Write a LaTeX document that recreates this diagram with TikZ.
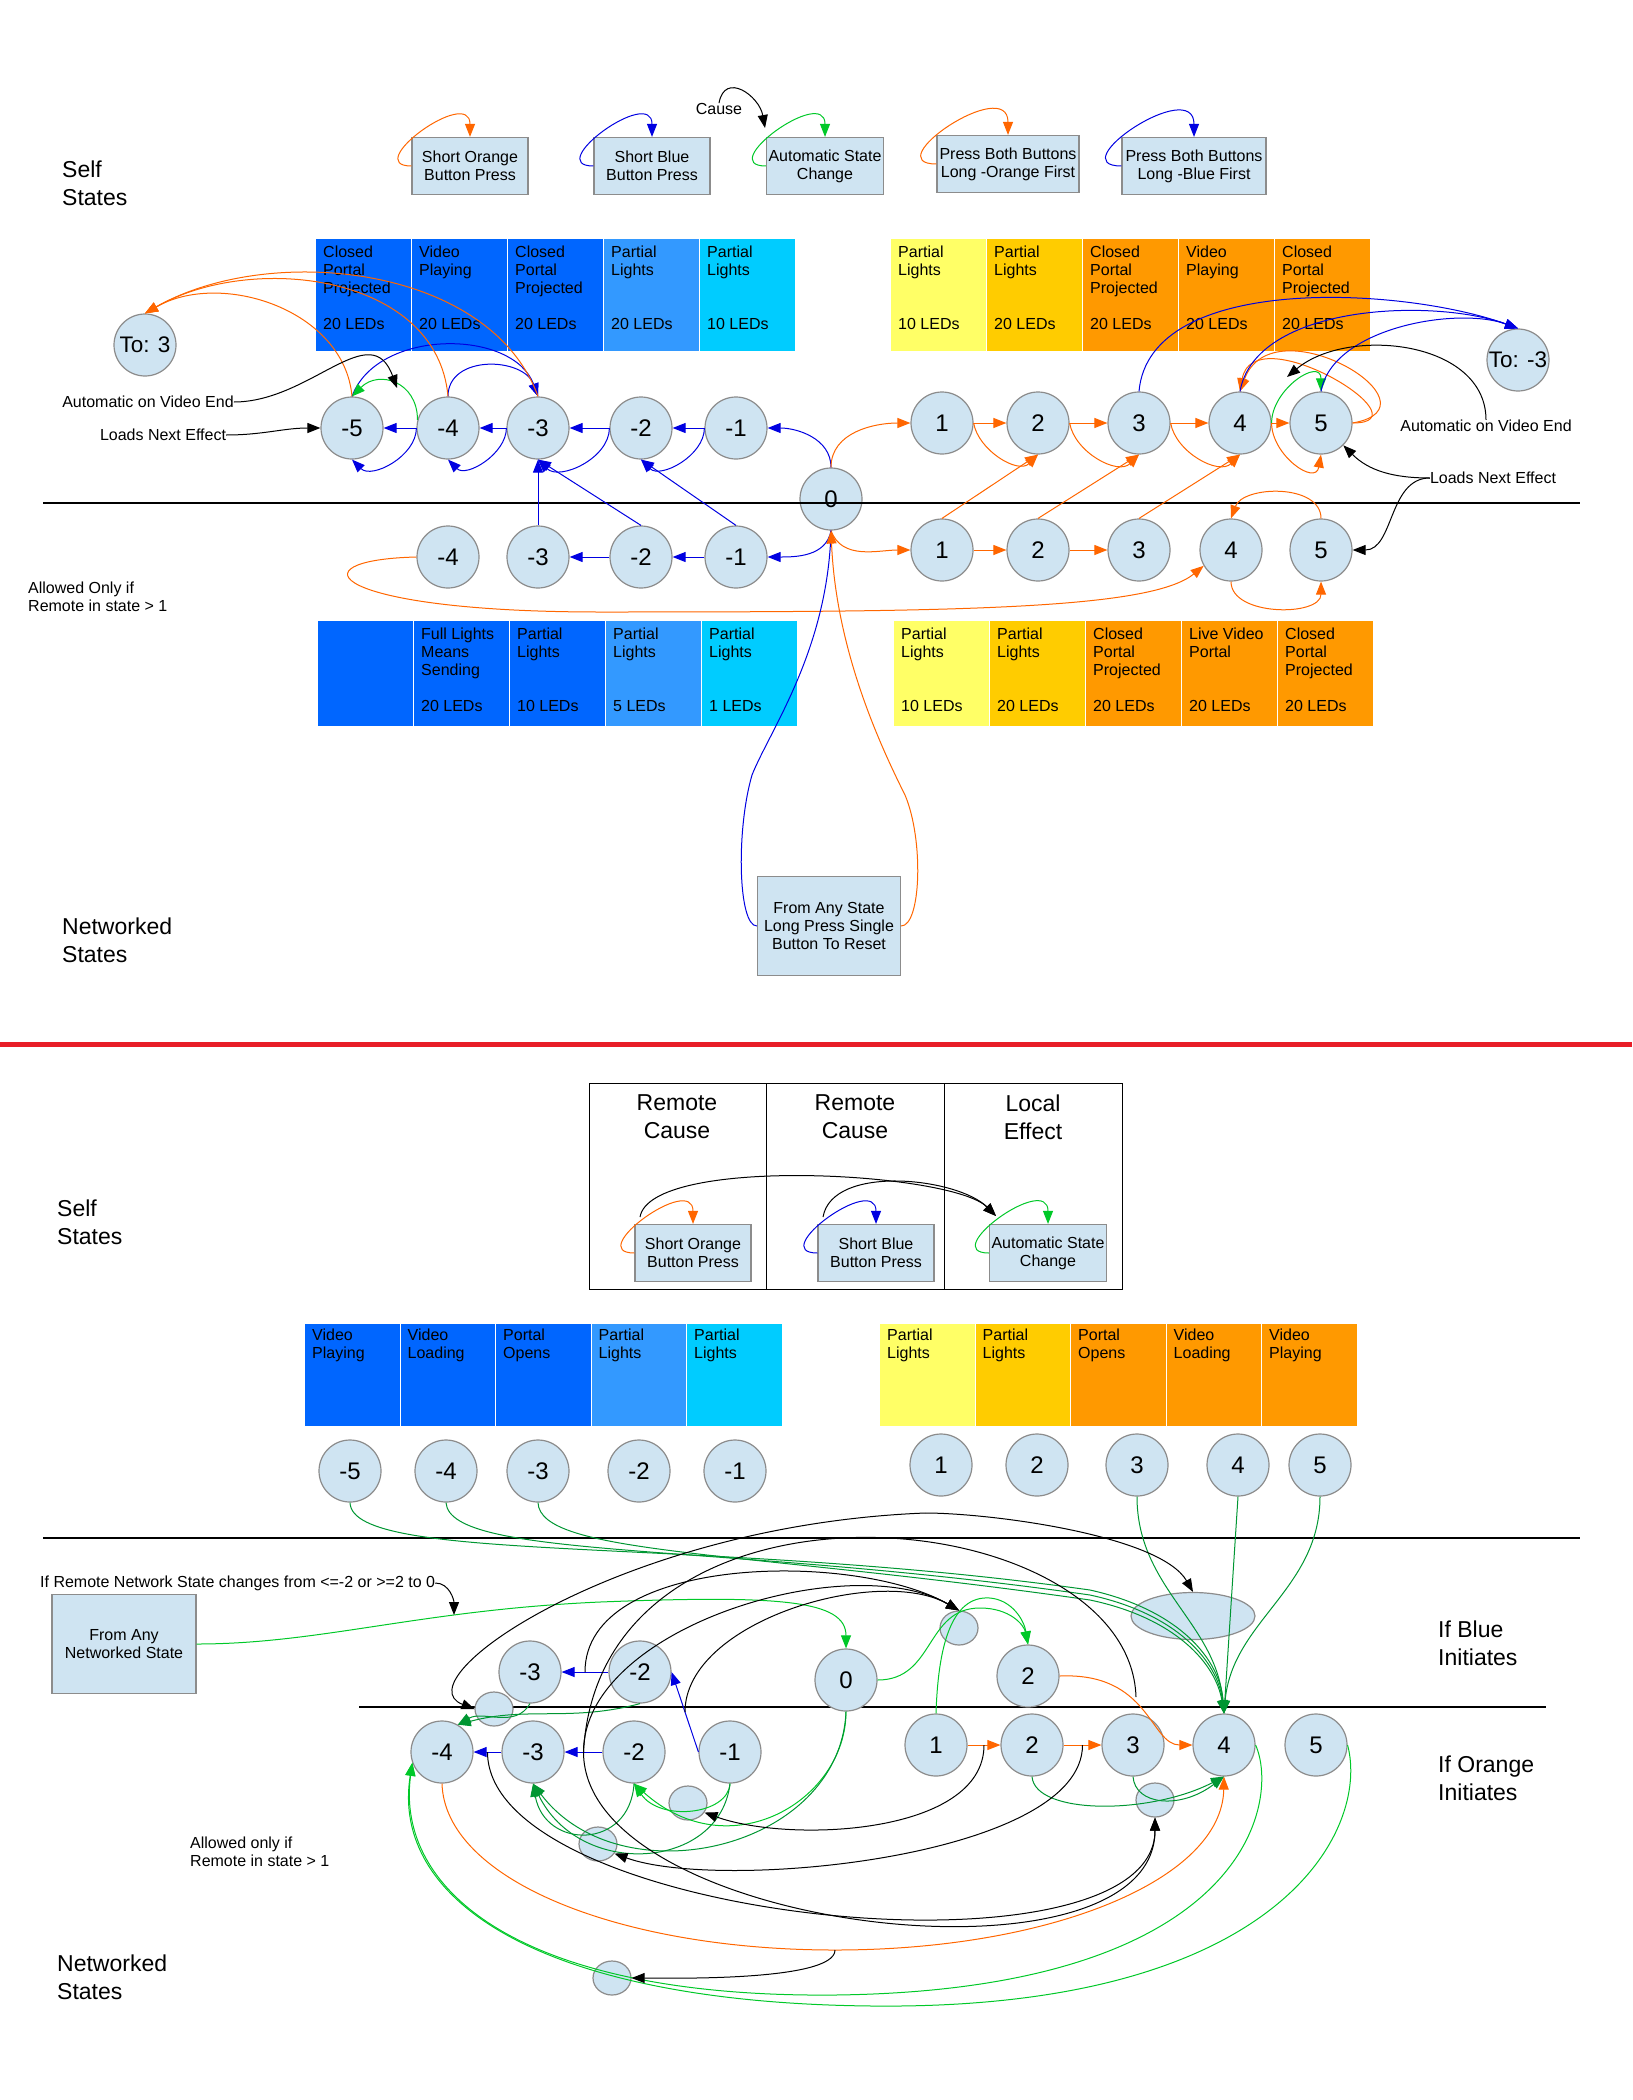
\documentclass[tikz,border=0pt]{standalone}
\usepackage{fontspec}
\setmainfont{Liberation Sans}
\usepackage{xcolor}
\usepackage{tikz}
\usetikzlibrary{arrows.meta,shapes.geometric}

\definecolor{nodefill}{RGB}{207,228,242}
\definecolor{nodeline}{RGB}{140,140,140}
\definecolor{oline}{RGB}{255,102,0}
\definecolor{bline}{RGB}{0,0,225}
\definecolor{gline}{RGB}{0,200,40}
\definecolor{dgline}{RGB}{0,150,50}
\definecolor{pblue}{RGB}{0,102,255}
\definecolor{pmid}{RGB}{51,153,255}
\definecolor{pcyan}{RGB}{0,204,255}
\definecolor{pyellow}{RGB}{255,255,102}
\definecolor{pgold}{RGB}{255,204,0}
\definecolor{porange}{RGB}{255,153,0}
\definecolor{redline}{RGB}{232,30,40}

\newcommand{\lblfont}{\fontsize{16}{18}\selectfont}
\newcommand{\bigfont}{\fontsize{23}{28}\selectfont}
\newcommand{\numfont}{\fontsize{24}{28}\selectfont}
\newcommand{\tofont}{\fontsize{22.5}{26}\selectfont}

\begin{document}
\begin{tikzpicture}[x=1pt, y=1pt, >={Triangle[length=13pt,width=10pt]},
	state/.style={circle, draw=nodeline, fill=nodefill, line width=1.2pt, minimum size=62pt, inner sep=0pt, font=\numfont},
	junc/.style={ellipse, draw=nodeline, fill=nodefill, line width=1.2pt, minimum width=38pt, minimum height=34pt, inner sep=0pt},
	legend/.style={rectangle, draw=nodeline, fill=nodefill, line width=1.2pt, minimum width=116pt, minimum height=57pt, inner sep=2pt, align=center, font=\lblfont},
	block/.style={rectangle, draw=white, line width=1pt, anchor=north west, minimum width=96pt, minimum height=113pt, inner sep=0pt},
	lowblock/.style={block, minimum width=95.5pt, minimum height=103pt},
	inblock/.style={anchor=north west, align=left, inner sep=0pt, xshift=8pt, yshift=-8pt, font=\lblfont},
	cell/.style={rectangle, draw=black, line width=1.2pt, anchor=north west, minimum width=178pt, minimum height=206pt, inner sep=0pt},
	head/.style={align=center, inner sep=0pt, font=\bigfont},
	txt/.style={align=left, inner sep=0pt, font=\lblfont},
	bigtxt/.style={anchor=north west, align=left, inner sep=0pt, font=\bigfont},
	oarr/.style={->, oline, line width=1pt},
	barr/.style={->, bline, line width=1pt},
	garr/.style={->, gline, line width=1pt},
	dgarr/.style={->, dgline, line width=1pt},
	karr/.style={->, black, line width=1pt}]
			\useasboundingbox (0,0) rectangle (1632,-2100);
			
			% self states, legend
			\node[bigtxt] (self1) at (62,-161) {Self\\States};
			\node[legend] (lo) at (470,-166) {Short Orange\\Button Press};
			\node[legend] (lb) at (652,-166) {Short Blue\\Button Press};
			\node[legend] (la) at (825,-166) {Automatic State\\Change};
			\node[legend, minimum width=142pt] (lbo) at (1008,-164) {Press Both Buttons\\Long -Orange First};
			\node[legend, minimum width=144pt] (lbb) at (1194,-166) {Press Both Buttons\\Long -Blue First};
			\node[txt] (cause) at (719,-109) {Cause};
			\coordinate (ctip) at (765,-128);
			
			\draw[oarr] (lo.west) to [out=180, in=90, looseness=2] (lo.north);
			\draw[barr] (lb.west) to [out=180, in=90, looseness=2] (lb.north);
			\draw[garr] (la.west) to [out=180, in=90, looseness=2] (la.north);
			\draw[oarr] (lbo.west) to [out=180, in=90, looseness=2] (lbo.north);
			\draw[barr] (lbb.west) to [out=180, in=90, looseness=2] (lbb.north);
			\draw[karr] (cause.north) to [out=80, in=100, looseness=1.6] (ctip);
			
			% colour blocks, self row
			\node[block, fill=pblue, label={[inblock]north west:{Closed\\Portal\\Projected\\[18pt]20 LEDs}}] (a1) at (315,-238) {};
			\node[block, fill=pblue, label={[inblock]north west:{Video\\Playing\\[36pt]20 LEDs}}] (a2) at (411,-238) {};
			\node[block, fill=pblue, label={[inblock]north west:{Closed\\Portal\\Projected\\[18pt]20 LEDs}}] (a3) at (507,-238) {};
			\node[block, fill=pmid, label={[inblock]north west:{Partial\\Lights\\[36pt]20 LEDs}}] (a4) at (603,-238) {};
			\node[block, fill=pcyan, label={[inblock]north west:{Partial\\Lights\\[36pt]10 LEDs}}] (a5) at (699,-238) {};
			
			\node[block, fill=pyellow, label={[inblock]north west:{Partial\\Lights\\[36pt]10 LEDs}}] (a6) at (890,-238) {};
			\node[block, fill=pgold, label={[inblock]north west:{Partial\\Lights\\[36pt]20 LEDs}}] (a7) at (986,-238) {};
			\node[block, fill=porange, label={[inblock]north west:{Closed\\Portal\\Projected\\[18pt]20 LEDs}}] (a8) at (1082,-238) {};
			\node[block, fill=porange, label={[inblock]north west:{Video\\Playing\\[36pt]20 LEDs}}] (a9) at (1178,-238) {};
			\node[block, fill=porange, label={[inblock]north west:{Closed\\Portal\\Projected\\[18pt]20 LEDs}}] (a10) at (1274,-238) {};
			
			% colour blocks, networked row
			\node[block, fill=pblue, minimum height=106pt] (n1) at (317,-620) {};
			\node[block, fill=pblue, minimum height=106pt, label={[inblock]north west:{Full Lights\\Means\\Sending\\[18pt]20 LEDs}}] (n2) at (413,-620) {};
			\node[block, fill=pblue, minimum height=106pt, label={[inblock]north west:{Partial\\Lights\\[36pt]10 LEDs}}] (n3) at (509,-620) {};
			\node[block, fill=pmid, minimum height=106pt, label={[inblock]north west:{Partial\\Lights\\[36pt]5 LEDs}}] (n4) at (605,-620) {};
			\node[block, fill=pcyan, minimum height=106pt, label={[inblock]north west:{Partial\\Lights\\[36pt]1 LEDs}}] (n5) at (701,-620) {};
			
			\node[block, fill=pyellow, minimum height=106pt, label={[inblock]north west:{Partial\\Lights\\[36pt]10 LEDs}}] (n6) at (893,-620) {};
			\node[block, fill=pgold, minimum height=106pt, label={[inblock]north west:{Partial\\Lights\\[36pt]20 LEDs}}] (n7) at (989,-620) {};
			\node[block, fill=porange, minimum height=106pt, label={[inblock]north west:{Closed\\Portal\\Projected\\[18pt]20 LEDs}}] (n8) at (1085,-620) {};
			\node[block, fill=porange, minimum height=106pt, label={[inblock]north west:{Live Video\\Portal\\[36pt]20 LEDs}}] (n9) at (1181,-620) {};
			\node[block, fill=porange, minimum height=106pt, label={[inblock]north west:{Closed\\Portal\\Projected\\[18pt]20 LEDs}}] (n10) at (1277,-620) {};
			
			% states
			\node[state, font=\tofont] (to3) at (145,-345) {To: 3};
			\node[state, font=\tofont] (tom3) at (1518,-360) {To: -3};
			\node[state] (sm5) at (352,-428) {-5};
			\node[state] (sm4) at (448,-428) {-4};
			\node[state] (sm3) at (538,-428) {-3};
			\node[state] (sm2) at (641,-428) {-2};
			\node[state] (sm1) at (736,-428) {-1};
			\node[state] (s0) at (831,-499) {0};
			\node[state] (sp1) at (942,-423) {1};
			\node[state] (sp2) at (1038,-423) {2};
			\node[state] (sp3) at (1139,-423) {3};
			\node[state] (sp4) at (1240,-423) {4};
			\node[state] (sp5) at (1321,-423) {5};
			
			\node[state] (nm4) at (448,-557) {-4};
			\node[state] (nm3) at (538,-557) {-3};
			\node[state] (nm2) at (641,-557) {-2};
			\node[state] (nm1) at (736,-557) {-1};
			\node[state] (np1) at (942,-550) {1};
			\node[state] (np2) at (1038,-550) {2};
			\node[state] (np3) at (1139,-550) {3};
			\node[state] (np4) at (1231,-550) {4};
			\node[state] (np5) at (1321,-550) {5};
			
			\draw[line width=1.2pt] (43,-503) -- (1580,-503);
			
			\node[txt] (auto1) at (148,-402) {Automatic on Video End};
			\node[txt] (load1) at (163,-435) {Loads Next Effect};
			\node[txt] (auto2) at (1486,-426) {Automatic on Video End};
			\node[txt] (load2) at (1493,-478) {Loads Next Effect};
			\coordinate (atip1) at (397,-388);
			\coordinate (atip2) at (1287,-377);
			\node[txt, anchor=north west] (allow1) at (28,-582) {Allowed Only if\\Remote in state > 1};
			\node[bigtxt] (net1) at (62,-918) {Networked\\States};
			\node[legend, minimum width=143pt, minimum height=99pt] (reset) at (829,-926) {From Any State\\Long Press Single\\Button To Reset};
			
			% blue side
			\draw[barr] (s0.north) to [out=90, in=0] (sm1.east);
			\draw[barr] (sm1) -- (sm2);
			\draw[barr] (sm2) -- (sm3);
			\draw[barr] (sm3) -- (sm4);
			\draw[barr] (sm4) -- (sm5);
			\draw[barr] (sm1.west) to [out=-90, in=-45] (sm2.south);
			\draw[barr] (sm2.west) to [out=-90, in=-45] (sm3.south);
			\draw[barr] (sm3.west) to [out=-90, in=-45] (sm4.south);
			\draw[barr] (sm4.west) to [out=-90, in=-45] (sm5.south);
			\draw[barr] (nm1.north) -- (sm2.south);
			\draw[barr] (nm2.north) -- (sm3.south);
			\draw[barr] (nm3) -- (sm3);
			\draw[barr] (sm5.north) to [out=70, in=110] (sm3.north);
			\draw[barr] (sm4.north) to [out=90, in=110, looseness=1.2] (sm3.north);
			\draw[oarr] (sm5.north) to [out=95, in=30] (to3.north);
			\draw[oarr] (sm4.north) to [out=95, in=30] (to3.north);
			\draw[oarr] (sm3.north) to [out=110, in=30, looseness=0.9] (to3.north);
			\draw[garr] (sm4.165) to [out=90, in=45, looseness=1.4] (sm5.north);
			\draw[karr] (auto1.east) to [out=0, in=110, looseness=1.2] (atip1);
			\draw[karr] (load1.east) to [out=0, in=180] (sm5.west);
			
			\draw[barr] (s0.south) to [out=-100, in=0] (nm1.east);
			\draw[barr] (nm1) -- (nm2);
			\draw[barr] (nm2) -- (nm3);
			
			% orange side
			\draw[oarr] (s0.north) to [out=90, in=180] (sp1.west);
			\draw[oarr] (sp1) -- (sp2);
			\draw[oarr] (sp2) -- (sp3);
			\draw[oarr] (sp3) -- (sp4);
			\draw[oarr] (sp4) -- (sp5);
			\draw[oarr] (sp1.east) to [out=-80, in=-135] (sp2.south);
			\draw[oarr] (sp2.east) to [out=-80, in=-135] (sp3.south);
			\draw[oarr] (sp3.east) to [out=-80, in=-135] (sp4.south);
			\draw[oarr] (sp4.east) to [out=-90, in=-100, looseness=1.4] (sp5.south);
			\draw[oarr] (np1.north) -- (sp2.south);
			\draw[oarr] (np2.north) -- (sp3.south);
			\draw[oarr] (np3.north) -- (sp4.south);
			\draw[oarr] (sp5.east) to [out=0, in=80, looseness=1.7] (sp4.north);
			\draw[oarr] (sp5.east) to [out=10, in=70, looseness=2.1] (sp4.north);
			\draw[garr] (sp4.east) to [out=90, in=90, looseness=1.5] (sp5.north);
			\draw[barr] (sp3.north) to [out=85, in=160, looseness=0.8] (tom3.north);
			\draw[barr] (sp4.north) to [out=80, in=160, looseness=0.8] (tom3.north);
			\draw[barr] (sp5.north) to [out=80, in=160, looseness=0.8] (tom3.north);
			\draw[karr] (auto2.north) to [out=90, in=40] (atip2);
			\draw[karr] (load2.west) to [out=180, in=-45] (sp5.south east);
			\draw[karr] (load2.west) to [out=180, in=0] (np5.east);
			
			\draw[oarr] (s0.south) to [out=-70, in=180] (np1.west);
			\draw[oarr] (np1) -- (np2);
			\draw[oarr] (np2) -- (np3);
			\draw[oarr] (np5.north) to [out=90, in=70] (np4.north);
			\draw[oarr] (np4.south) to [out=-90, in=-90] (np5.south);
			\draw[oarr] (nm4.west) .. controls (290,-560) and (330,-612) .. (600,-612) .. controls (950,-612) and (1150,-610) .. (np4.-150);
			
			\draw[bline, line width=1pt] (reset.west) .. controls (738,-926) and (736,-830) .. (752,-775) .. controls (770,-730) and (828,-650) .. (s0.south);
			\draw[oarr] (reset.east) .. controls (921,-926) and (924,-840) .. (905,-795) .. controls (880,-745) and (836,-650) .. (s0.south);
			
			\draw[redline, line width=5pt] (0,-1044) -- (1632,-1044);
			
			% second half: table
			\node[cell, minimum width=177pt] (c1) at (589,-1083) {};
			\node[cell] (c2) at (766,-1083) {};
			\node[cell] (c3) at (944,-1083) {};
			\node[head] (h1) at (677,-1117) {Remote\\Cause};
			\node[head] (h2) at (855,-1117) {Remote\\Cause};
			\node[head] (h3) at (1033,-1117) {Local\\Effect};
			\node[legend] (lo') at (693,-1253) {Short Orange\\Button Press};
			\node[legend] (lb') at (876,-1253) {Short Blue\\Button Press};
			\node[legend] (la') at (1048,-1253) {Automatic State\\Change};
			\coordinate (ko) at (640,-1217);
			\coordinate (kb) at (823,-1217);
			\coordinate (kt) at (996,-1216);
			\draw[oarr] (lo'.west) to [out=180, in=90, looseness=2] (lo'.north);
			\draw[barr] (lb'.west) to [out=180, in=90, looseness=2] (lb'.north);
			\draw[garr] (la'.west) to [out=180, in=90, looseness=2] (la'.north);
			\draw[karr] (ko) to [out=80, in=135, looseness=0.45] (kt);
			\draw[karr] (kb) to [out=80, in=135, looseness=0.8] (kt);
			
			\node[bigtxt] (self2) at (57,-1200) {Self\\States};
			
			\node[lowblock, fill=pblue, label={[inblock, yshift=2pt]north west:{Video\\Playing}}] (d1) at (304,-1323) {};
			\node[lowblock, fill=pblue, label={[inblock, yshift=2pt]north west:{Video\\Loading}}] (d2) at (399.5,-1323) {};
			\node[lowblock, fill=pblue, label={[inblock, yshift=2pt]north west:{Portal\\Opens}}] (d3) at (495,-1323) {};
			\node[lowblock, fill=pmid, label={[inblock, yshift=2pt]north west:{Partial\\Lights}}] (d4) at (590.5,-1323) {};
			\node[lowblock, fill=pcyan, label={[inblock, yshift=2pt]north west:{Partial\\Lights}}] (d5) at (686,-1323) {};
			\node[lowblock, fill=pyellow, label={[inblock, yshift=2pt]north west:{Partial\\Lights}}] (d6) at (879,-1323) {};
			\node[lowblock, fill=pgold, label={[inblock, yshift=2pt]north west:{Partial\\Lights}}] (d7) at (974.5,-1323) {};
			\node[lowblock, fill=porange, label={[inblock, yshift=2pt]north west:{Portal\\Opens}}] (d8) at (1070,-1323) {};
			\node[lowblock, fill=porange, label={[inblock, yshift=2pt]north west:{Video\\Loading}}] (d9) at (1165.5,-1323) {};
			\node[lowblock, fill=porange, label={[inblock, yshift=2pt]north west:{Video\\Playing}}] (d10) at (1261,-1323) {};
			
			\node[state] (s'm5) at (350,-1471) {-5};
			\node[state] (s'm4) at (446,-1471) {-4};
			\node[state] (s'm3) at (538,-1471) {-3};
			\node[state] (s'm2) at (639,-1471) {-2};
			\node[state] (s'm1) at (735,-1471) {-1};
			\node[state] (s'p1) at (941,-1465) {1};
			\node[state] (s'p2) at (1037,-1465) {2};
			\node[state] (s'p3) at (1137,-1465) {3};
			\node[state] (s'p4) at (1238,-1465) {4};
			\node[state] (s'p5) at (1320,-1465) {5};
			
			\draw[line width=1.2pt] (43,-1538) -- (1580,-1538);
			\draw[line width=1.2pt] (359,-1707) -- (1546,-1707);
			
			% networked, blue initiates
			\node[state] (bm3) at (530,-1672) {-3};
			\node[state] (bm2) at (640,-1672) {-2};
			\node[state] (b0) at (846,-1680) {0};
			\node[state] (bp2) at (1028,-1676) {2};
			\node[junc] (u1) at (959,-1628) {};
			\node[junc, minimum width=124pt, minimum height=47pt] (u2) at (1193,-1616) {};
			\node[junc] (u3) at (494,-1709) {};
			
			% networked, orange initiates
			\node[state] (om4) at (442,-1752) {-4};
			\node[state] (om3) at (533,-1752) {-3};
			\node[state] (om2) at (634,-1752) {-2};
			\node[state] (om1) at (730,-1752) {-1};
			\node[state] (op1) at (936,-1745) {1};
			\node[state] (op2) at (1032,-1745) {2};
			\node[state] (op3) at (1133,-1745) {3};
			\node[state] (op4) at (1224,-1745) {4};
			\node[state] (op5) at (1316,-1745) {5};
			\node[junc] (u4) at (688,-1803) {};
			\node[junc] (u5) at (598,-1844) {};
			\node[junc] (u6) at (1155,-1800) {};
			\node[junc] (u7) at (612,-1978) {};
			
			\node[txt, anchor=west] (remlbl) at (40,-1583) {If Remote Network State changes from <=-2 or >=2 to 0};
			\node[legend, minimum width=144pt, minimum height=99pt] (netbox) at (124,-1644) {From Any\\Networked State};
			\node[bigtxt] (blue1) at (1438,-1621) {If Blue\\Initiates};
			\node[bigtxt] (orange1) at (1438,-1756) {If Orange\\Initiates};
			\node[txt, anchor=north west] (allow2) at (190,-1837) {Allowed only if\\Remote in state > 1};
			\node[bigtxt] (net2) at (57,-1955) {Networked\\States};
			\coordinate (g1pt) at (454,-1615);
			\coordinate (kA) at (925,-1513);
			\coordinate (o1mid) at (1136,-1697);
			\coordinate (obot) at (835,-1950);
			
			\draw[barr] (bm2) -- coordinate[midway] (kb23) (bm3);
			\draw[barr] (om1.west) -- coordinate[midway] (kb1) (bm2.east);
			\draw[barr] (om2) -- coordinate[midway] (k23) (om3);
			\draw[barr] (om3) -- coordinate[midway] (k34) (om4);
			\draw[oarr] (op1) -- coordinate[midway] (k12) (op2);
			\draw[oarr] (op2) -- coordinate[midway] (kp23) (op3);
			
			\draw[garr] (netbox.east) .. controls (320,-1644) and (420,-1610) .. (600,-1602) .. controls (780,-1595) and (846,-1600) .. (b0.north);
			\draw[karr] (remlbl.east) to [out=0, in=90] (g1pt);
			\draw[garr] (b0.east) .. controls (935,-1680) and (925,-1608) .. (980,-1608) .. controls (1010,-1608) and (1024,-1625) .. (bp2.north);
			\draw[garr] (op1.north) .. controls (938,-1650) and (950,-1595) .. (990,-1598) .. controls (1012,-1600) and (1024,-1620) .. (bp2.north);
			
			\draw[dgarr] (s'm5.south) .. controls (352,-1565) and (700,-1535) .. (1090,-1590) .. controls (1180,-1610) and (1220,-1660) .. (op4.north);
			\draw[dgarr] (s'm4.south) .. controls (450,-1560) and (720,-1542) .. (1090,-1595) .. controls (1178,-1614) and (1218,-1662) .. (op4.north);
			\draw[dgarr] (s'm3.south) .. controls (540,-1555) and (740,-1550) .. (1090,-1600) .. controls (1176,-1618) and (1216,-1664) .. (op4.north);
			\draw[dgarr] (s'p3.south) to [out=-90, in=95] (op4.north);
			\draw[dgarr] (s'p4.south) -- (op4.north);
			\draw[dgarr] (s'p5.south) to [out=-90, in=85] (op4.north);
			
			\draw[garr] (op4.east) .. controls (1280,-1800) and (1250,-1990) .. (835,-1995) .. controls (520,-1998) and (395,-1890) .. (om4.-160);
			\draw[garr] (op5.east) .. controls (1370,-1830) and (1280,-2010) .. (873,-2006) .. controls (540,-2003) and (390,-1900) .. (om4.-160);
			\draw[dgarr] (bm3.south) to [out=-120, in=30] (om4.60);
			\draw[dgarr] (bm2.south) to [out=-165, in=15] (om4.60);
			\draw[garr] (b0.south) .. controls (846,-1800) and (730,-1870) .. (om2.south);
			\draw[dgarr] (b0.south) .. controls (840,-1850) and (620,-1900) .. (om3.south);
			\draw[garr] (om1.south) .. controls (728,-1815) and (660,-1822) .. (om2.south);
			\draw[dgarr] (om1.south) .. controls (720,-1870) and (580,-1880) .. (om3.south);
			\draw[dgarr] (om2.south) .. controls (630,-1850) and (545,-1850) .. (om3.south);
			\draw[dgarr] (op2.south) .. controls (1035,-1815) and (1150,-1815) .. (op4.south);
			\draw[dgarr] (op3.south) .. controls (1135,-1805) and (1180,-1810) .. (op4.south);
			
			\draw[oarr] (bp2.east) .. controls (1150,-1672) and (1150,-1745) .. (op4.west);
			\draw[oarr] (om4.south) .. controls (445,-1880) and (620,-1950) .. (obot) .. controls (1050,-1950) and (1222,-1880) .. (op4.south);
			
			\draw[karr] (kA) to [out=0, in=120, looseness=0.6] (u2.north);
			\draw[karr] (kA) .. controls (620,-1525) and (400,-1680) .. (u3.west);
			\draw[black, line width=1pt] (o1mid) .. controls (1130,-1500) and (600,-1450) .. (k23);
			\draw[karr] (k23) to [out=-90, in=-90, looseness=0.8] (u6.south);
			\draw[karr] (k34) to [out=-90, in=-90, looseness=0.65] (u6.south);
			\draw[karr] (kb23) to [out=90, in=150, looseness=0.8] (u1.north);
			\draw[karr] (k23) to [out=90, in=150, looseness=0.8] (u1.north);
			\draw[karr] (kb1) to [out=90, in=150, looseness=0.8] (u1.north);
			\draw[karr] (k12) to [out=-90, in=-20, looseness=0.8] (u4.-30);
			\draw[karr] (kp23) to [out=-90, in=-20, looseness=0.6] (u5.-30);
			\draw[karr] (obot) to [out=-90, in=0, looseness=0.4] (u7.east);
			
		\end{tikzpicture}
\end{document}
